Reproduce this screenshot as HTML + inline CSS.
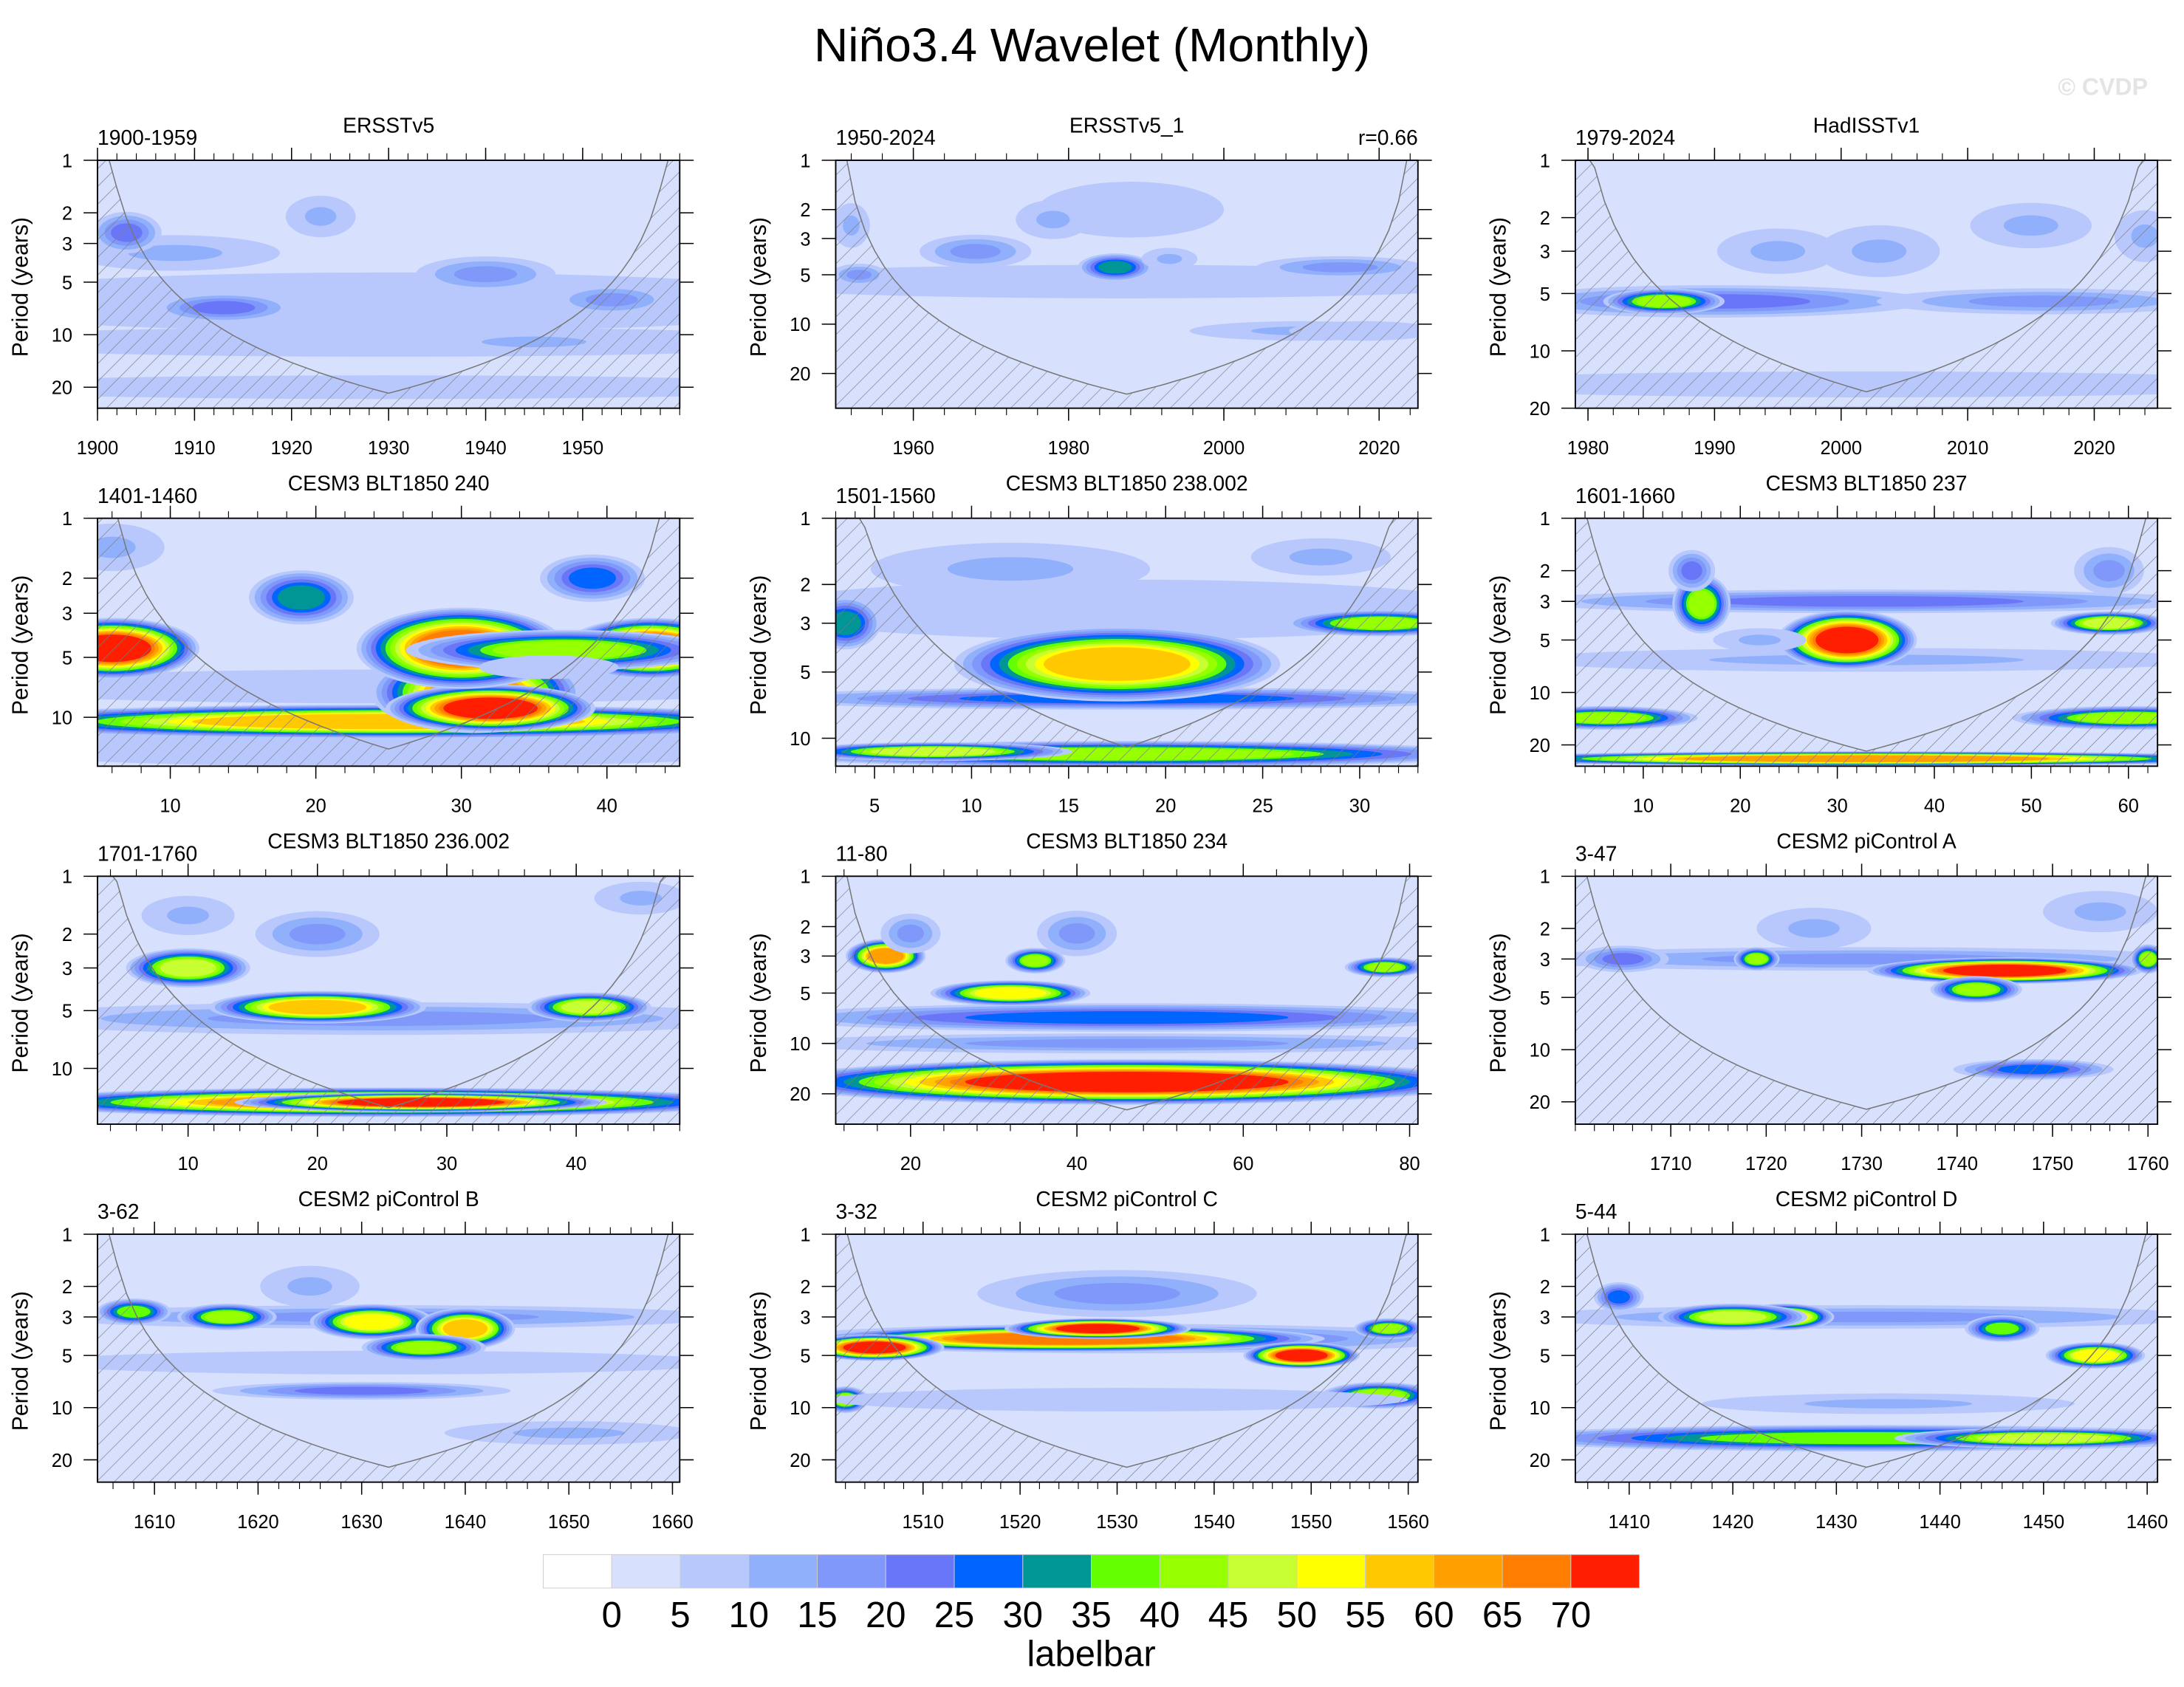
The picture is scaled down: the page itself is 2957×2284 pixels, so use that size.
<!DOCTYPE html>
<html><head><meta charset="utf-8">
<style>
html,body{margin:0;padding:0;background:#fff;}
svg{display:block;font-family:"Liberation Sans",sans-serif;}
</style></head>
<body>
<svg id="fig" width="2957" height="2284" viewBox="0 0 1568 1211" xmlns="http://www.w3.org/2000/svg">
<defs>
<pattern id="hatch" patternUnits="userSpaceOnUse" width="9" height="9" patternTransform="rotate(45)">
<line x1="0" y1="0" x2="0" y2="9" stroke="#7a7a8a" stroke-width="0.7"/>
</pattern>
</defs>
<text x="784" y="44" font-size="34" text-anchor="middle">Niño3.4 Wavelet (Monthly)</text>
<text x="1542" y="68" font-size="17" font-weight="bold" text-anchor="end" fill="#e4e4e4">© CVDP</text>
<g id="panels"></g>
<g id="colorbar"></g>
</svg>
<script>
const levelColors=["#ffffff","#d7e0fc","#b8c8fc","#90b0fc","#7f98fa","#6a76f8","#0064ff","#009696","#64ff00","#96ff00","#c8ff32","#ffff00","#ffc800","#ffa000","#ff7d00","#ff1e00"];
const levelLabels=[0,5,10,15,20,25,30,35,40,45,50,55,60,65,70];

const panelTitles=["ERSSTv5","ERSSTv5_1","HadISSTv1","CESM3 BLT1850 240","CESM3 BLT1850 238.002","CESM3 BLT1850 237","CESM3 BLT1850 236.002","CESM3 BLT1850 234","CESM2 piControl A","CESM2 piControl B","CESM2 piControl C","CESM2 piControl D"];
const panelLabels=["1900-1959","1950-2024","1979-2024","1401-1460","1501-1560","1601-1660","1701-1760","11-80","3-47","3-62","3-32","5-44"];
const panelXRange=[[1900,1960],[1950,2025],[1979,2025],[5,45],[3,33],[3,63],[3,48],[11,81],[1700,1761],[1604.5,1660.7],[1501,1561],[1404.8,1461]];
const panelPMax=[26.4,32.6,20,17.6,13.4,26.5,19.5,30.4,26.9,26.9,26.9,26.9];
const panelXTicks=[[1900,1910,1920,1930,1940,1950],[1960,1980,2000,2020],[1980,1990,2000,2010,2020],[10,20,30,40],[5,10,15,20,25,30],[10,20,30,40,50,60],[10,20,30,40],[20,40,60,80],[1710,1720,1730,1740,1750,1760],[1610,1620,1630,1640,1650,1660],[1510,1520,1530,1540,1550,1560],[1410,1420,1430,1440,1450,1460]];
const panelXMinor=[2,4,2,2,1,2,2,4,2,2,2,2];
const panelYTicks=[[1,2,3,5,10,20],[1,2,3,5,10,20],[1,2,3,5,10,20],[1,2,3,5,10],[1,2,3,5,10],[1,2,3,5,10,20],[1,2,3,5,10],[1,2,3,5,10,20],[1,2,3,5,10,20],[1,2,3,5,10,20],[1,2,3,5,10,20],[1,2,3,5,10,20]];
const panelRValue=["","r=0.66","","","","","","","","","",""];

// blobs: [x center, period center, x half-width (data units), period half-width (decades), peak level]
const blobsP1=[[1930,6.5,40,0.1,2],[1930,11,40,0.05,2],[1930,20,40,0.04,2],[1908,3.4,9,0.06,3],[1903,2.6,3,0.07,5],[1913,7,6,0.05,5],[1923,2.1,3,0.07,3],[1940,4.5,6,0.06,4],[1953,6.3,5,0.05,4],[1945,11,10,0.04,3]];
const blobsP2=[[1987,5.5,45,0.06,2],[1988,2,10,0.1,2],[1953,5,3,0.04,4],[1952,2.5,2,0.08,3],[1968,3.6,6,0.06,4],[1978,2.3,4,0.07,3],[1986,4.5,4,0.05,7],[1993,4,3,0.04,3],[2015,4.5,9,0.04,4],[2010,11,12,0.035,3],[2018,11,8,0.035,2]];
const blobsP3=[[2002,15,30,0.04,2],[2002,22,30,0.03,2],[1990,5.5,14,0.05,5],[1986,5.5,4,0.04,9],[2016,5.5,11,0.04,4],[1995,3,4,0.07,3],[2003,3,4,0.08,3],[2015,2.2,4,0.07,3],[2024,2.5,2,0.08,3]];
const blobsP4=[[25,7,25,0.05,2],[25,14,25,0.06,2],[25,10.5,25,0.05,12],[31,7.5,6,0.12,13],[32,9,6,0.07,15],[6,4.5,5,0.09,15],[43,4.5,5,0.09,15],[30,4.5,6,0.12,14],[37,4.6,9,0.06,9],[36,5.6,4,0.035,2],[19,2.5,3,0.08,7],[39,2,3,0.07,6],[6,1.4,3,0.07,3]];
const blobsP5=[[18,2.6,16,0.08,2],[18,6.6,16,0.03,6],[17.5,4.6,7,0.1,12],[18,11.8,16,0.035,9],[8,11.5,6,0.025,10],[3.5,3,1.5,0.07,7],[31,3,4,0.035,9],[12,1.7,6,0.07,3],[28,1.5,3,0.05,3]];
const blobsP6=[[33,3,30,0.04,5],[33,6.5,30,0.04,3],[31,5,6,0.1,15],[16,3.1,2.5,0.1,9],[58,4,5,0.04,10],[6,14,8,0.04,9],[60,14,10,0.04,9],[33,24,35,0.025,13],[15,2,2,0.07,5],[58,2,3,0.08,4],[22,5,4,0.04,3]];
const blobsP7=[[25,5.5,25,0.05,4],[10,3,4,0.06,10],[20,4.8,7,0.05,12],[41,4.8,4,0.045,10],[25,15,25,0.045,13],[28,15,12,0.03,15],[20,2,4,0.07,4],[10,1.6,3,0.06,3],[45,1.3,3,0.05,3]];
const blobsP8=[[46,7,36,0.05,6],[46,10,36,0.035,4],[46,17,36,0.08,15],[17,3,4,0.06,13],[32,5,8,0.045,11],[35,3.2,3,0.045,9],[77,3.5,4,0.035,9],[40,2.2,4,0.08,4],[20,2.2,3,0.07,4]];
const blobsP9=[[1730,3,31,0.04,4],[1745,3.5,12,0.045,15],[1742,4.5,4,0.045,9],[1719,3,2,0.04,9],[1760,3,1.5,0.05,9],[1748,13,7,0.035,6],[1705,3,4,0.045,5],[1725,2,5,0.07,3],[1755,1.6,5,0.07,3]];
const blobsP10=[[1632,3,28,0.04,4],[1632,5.5,28,0.04,2],[1630,8,12,0.03,5],[1608,2.8,3,0.045,8],[1617,3,4,0.045,9],[1631,3.2,5,0.06,11],[1640,3.5,4,0.07,12],[1636,4.5,5,0.045,9],[1625,2,4,0.07,3],[1650,14,10,0.04,3]];
const blobsP11=[[1531,4,30,0.05,5],[1525,4,22,0.045,14],[1505,4.5,6,0.045,15],[1528,3.5,8,0.035,15],[1549,5,5,0.045,15],[1558,3.5,3,0.035,9],[1557,8.5,5,0.045,9],[1502,9,2,0.045,9],[1530,2.2,12,0.08,4],[1530,9,25,0.04,2]];
const blobsP12=[[1433,15,30,0.045,8],[1450,15,12,0.035,10],[1433,3,28,0.04,4],[1425,3,4,0.045,12],[1420,3,6,0.045,10],[1455,5,4,0.045,11],[1446,3.5,3,0.045,8],[1409,2.3,2,0.05,6],[1435,9.5,15,0.035,3]];
const allBlobs=[blobsP1,blobsP2,blobsP3,blobsP4,blobsP5,blobsP6,blobsP7,blobsP8,blobsP9,blobsP10,blobsP11,blobsP12];

const NS="http://www.w3.org/2000/svg";
function mk(tag,attrs,parent){const e=document.createElementNS(NS,tag);for(const k in attrs)e.setAttribute(k,attrs[k]);if(parent)parent.appendChild(e);return e;}

const colX=[70,600,1131], rowY=[115,372,629,886], PW=418, PH=178;
const root=document.getElementById('panels');
const SX=1.2, SY=1.7;

for(let i=0;i<12;i++){
  const x0=colX[i%3], y0=rowY[Math.floor(i/3)];
  const xr=panelXRange[i], pmax=panelPMax[i];
  const pxDec=PH/Math.log10(pmax);
  const xs=v=>x0+(v-xr[0])/(xr[1]-xr[0])*PW;
  const ys=p=>y0+Math.log10(p)*pxDec;
  const g=mk('g',{},root);
  
  
  const cp=mk('clipPath',{id:'clip'+i},g);
  mk('rect',{x:x0,y:y0,width:PW,height:PH},cp);
  const plot=mk('g',{'clip-path':'url(#clip'+i+')'},g);
  const bg=mk('rect',{x:x0,y:y0,width:PW,height:PH,fill:levelColors[1]},plot);
  
  
  allBlobs[i].forEach(b=>{
    const [bx,bp,hx,hp,lev]=b;
    const cx=xs(bx), cy=ys(bp), rx=SX*hx/(xr[1]-xr[0])*PW, ry=SY*hp*pxDec;
    for(let k=2;k<=lev;k++){
      const f=lev<=2?1:1-(k-2)/(lev-2)*0.55;
      const el=mk('ellipse',{cx:cx,cy:cy,rx:rx*f,ry:ry*f,fill:levelColors[k]},plot);
      
      
    }
  });
  const apex=pmax*0.82, half=(xr[1]-xr[0])/2, c=apex/half;
  let pts=[];
  for(let s=0;s<=60;s++){
    const v=xr[0]+s/60*(xr[1]-xr[0]);
    const d=Math.min(v-xr[0],xr[1]-v);
    const p=Math.max(c*d,0.3);
    pts.push([xs(v),Math.max(ys(p),y0-5)]);
  }
  let dpath='M'+x0+','+(y0+PH+5)+' '+pts.map(q=>'L'+q[0].toFixed(1)+','+q[1].toFixed(1)).join(' ')+' L'+(x0+PW)+','+(y0+PH+5)+'Z';
  const coi=mk('path',{d:dpath,fill:'url(#hatch)',stroke:'none'},plot);
  
  
  mk('path',{d:'M'+pts.map(q=>q[0].toFixed(1)+','+q[1].toFixed(1)).join(' L'),fill:'none',stroke:'#777',"stroke-width":0.8},plot);
  const frame=mk('rect',{x:x0,y:y0,width:PW,height:PH,fill:'none',stroke:'#000',"stroke-width":1},g);
  
  
  const minor=panelXMinor[i];
  for(let v=Math.ceil(xr[0]/minor)*minor;v<=xr[1];v+=minor){
    const X=xs(v);
    mk('line',{x1:X,y1:y0+PH,x2:X,y2:y0+PH+5,stroke:'#000',"stroke-width":0.6},g);
    mk('line',{x1:X,y1:y0,x2:X,y2:y0-5,stroke:'#000',"stroke-width":0.6},g);
  }
  panelXTicks[i].forEach(v=>{
    const X=xs(v);
    mk('line',{x1:X,y1:y0+PH,x2:X,y2:y0+PH+9,stroke:'#000',"stroke-width":0.8},g);
    mk('line',{x1:X,y1:y0,x2:X,y2:y0-9,stroke:'#000',"stroke-width":0.8},g);
    const t=mk('text',{x:X,y:y0+PH+33,"font-size":13.5,"text-anchor":"middle"},g);
    t.textContent=v;
    
    
  });
  panelYTicks[i].forEach(p=>{
    const Y=ys(p);
    mk('line',{x1:x0-10,y1:Y,x2:x0,y2:Y,stroke:'#000',"stroke-width":0.8},g);
    mk('line',{x1:x0+PW,y1:Y,x2:x0+PW+10,y2:Y,stroke:'#000',"stroke-width":0.8},g);
    const t=mk('text',{x:x0-18,y:Y+5,"font-size":13.5,"text-anchor":"end"},g);
    t.textContent=p;
    
    
  });
  const yt=mk('text',{x:0,y:0,"font-size":16,"text-anchor":"middle",transform:'translate('+(x0-50)+','+(y0+PH/2+2)+') rotate(-90)'},g);
  yt.textContent='Period (years)';
  
  
  const tt=mk('text',{x:x0+PW/2,y:y0-20,"font-size":15,"text-anchor":"middle"},g);
  tt.textContent=panelTitles[i];
  
  
  const lt=mk('text',{x:x0,y:y0-11,"font-size":15},g);
  lt.textContent=panelLabels[i];
  
  
  if(panelRValue[i]){
    const rt=mk('text',{x:x0+PW,y:y0-11,"font-size":15,"text-anchor":"end"},g);
    rt.textContent=panelRValue[i];
    
    
  }
}

const cb=document.getElementById('colorbar');
const cbx=390, cbw=787, cby=1116, cbh=24, bw=cbw/levelColors.length;
levelColors.forEach((c,k)=>{
  const r=mk('rect',{x:cbx+k*bw,y:cby,width:bw,height:cbh,fill:c,stroke:'#ccc',"stroke-width":0.5},cb);
  
  
});
levelLabels.forEach((v,k)=>{
  const t=mk('text',{x:cbx+(k+1)*bw,y:cby+52,"font-size":26,"text-anchor":"middle"},cb);
  t.textContent=v;
  
  
});
const lb=mk('text',{x:cbx+cbw/2,y:1196,"font-size":26,"text-anchor":"middle"},cb);
lb.textContent='labelbar';


</script>
</body></html>
